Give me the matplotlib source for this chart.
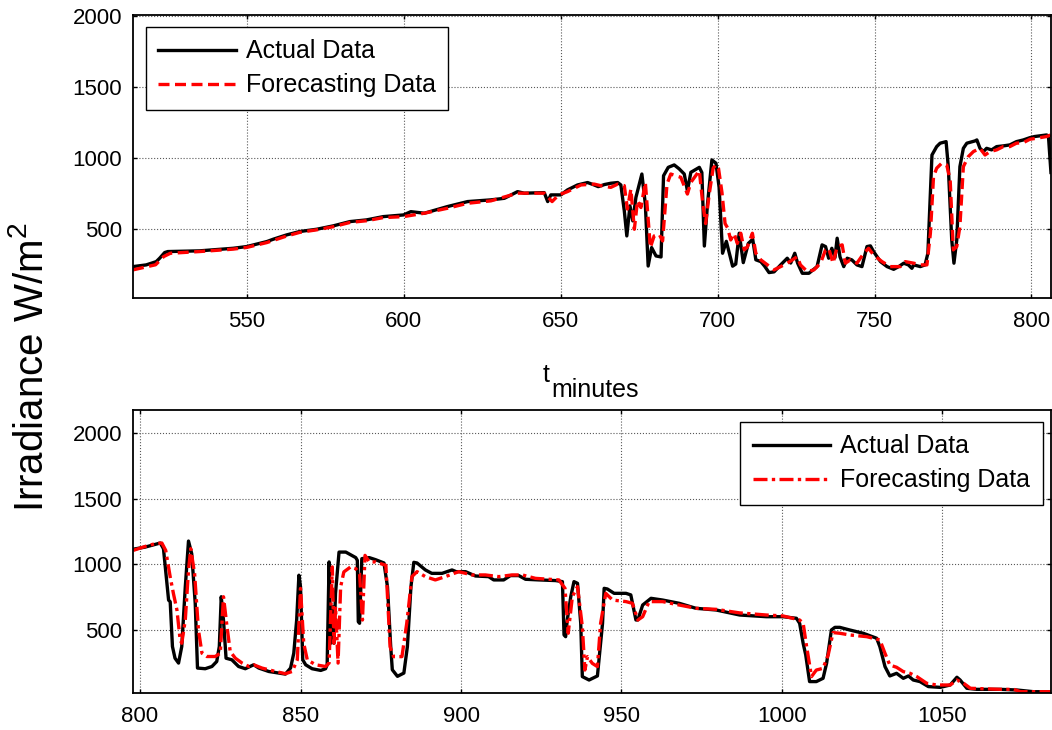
import matplotlib
matplotlib.use('Agg')
import matplotlib.pyplot as plt

plt.rcParams['font.family'] = 'Liberation Sans'
plt.rcParams['mathtext.fontset'] = 'custom'
plt.rcParams['mathtext.rm'] = 'Liberation Sans'
plt.rcParams['mathtext.it'] = 'Liberation Sans'

# upper panel: minutes 514-806
t_top_actual = [513.8, 518.0, 521.2, 522.3, 523.9, 524.9, 535, 545.7, 550, 556.4, 558.5, 562.7, 566.9,
                572.3, 577.6, 582.9, 588.2, 593.5, 600, 602.3, 606.6, 614, 620.4, 627.8, 632.1, 636.3,
                638.4, 644.8, 645.9, 646.9, 650.1, 652.2, 655.4, 658.6, 660.7, 662, 664, 666, 668.2,
                669.2, 670.3, 671.1, 672.1, 673.0, 674.0, 675.9, 677.0, 677.9, 679.0, 680.4, 682.0,
                682.8, 684.3, 686.2, 687.8, 689.4, 690.4, 691.5, 694.2, 695.0, 695.8, 696.8, 698.2,
                699.5, 700.5, 701.6, 702.8, 704.8, 705.8, 706.9, 708.2, 709.8, 711.2, 712.2, 713.8,
                715.0, 716.4, 718, 720.1, 722.2, 723.3, 724.6, 725.5, 727, 729.1, 731.7, 733.3, 734.4,
                735.4, 736.4, 737.4, 738.1, 739.0, 740.2, 741.3, 742.8, 744.4, 746, 747.6, 748.7,
                749.7, 751.9, 754, 756.1, 757.7, 759.3, 760.8, 761.9, 762.5, 764.6, 766.1, 767.0,
                768.3, 769.8, 770.9, 772.8, 773.5, 774.6, 775.3, 776.2, 777.2, 778.3, 779.4, 782.0,
                782.6, 783.6, 784.7, 785.7, 787.3, 788.9, 791, 793.1, 795.2, 797.4, 799.5, 801,
                804.8, 805.4, 806.2]
irr_top_actual = [237, 249, 272, 296, 336, 343, 348, 366, 378, 413, 430, 460, 484,
                  500, 524, 554, 566, 589, 601, 624, 613, 660, 695, 707, 718, 765,
                  754, 758, 695, 742, 742, 777, 812, 829, 812, 800, 815, 824, 829,
                  812, 630, 453, 665, 559, 724, 889, 677, 241, 371, 312, 305,
                  877, 936, 953, 925, 889, 771, 901, 936, 900, 382, 677, 988,
                  965, 795, 331, 415, 240, 255, 472, 265, 400, 430, 285, 272,
                  240, 195, 200, 249, 296, 262, 331, 262, 190, 190, 237, 390, 378,
                  296, 366, 300, 437, 306, 237, 296, 284, 249, 237, 378, 383,
                  343, 272, 237, 218, 237, 261, 249, 225, 249, 237, 249, 331,
                  1023, 1082, 1106, 1117, 941, 425, 261, 425, 941, 1070, 1106, 1122,
                  1129, 1070, 1047, 1070, 1059, 1082, 1087, 1094, 1117, 1129, 1145, 1153,
                  1164, 1157, 900]

t_top_forecast = [513.8, 518, 521, 523.6, 525.7, 535, 545.7, 550, 556.4, 562.7, 566.9, 572.3, 577.6,
                  582.9, 588.2, 593.5, 600, 606.6, 614, 620.4, 627.8, 636.3, 644.8, 647.3, 649.4,
                  652.2, 656.5, 660.7, 662.8, 666, 668.2, 670.3, 671.3, 672.4, 673.5, 674.5, 675.6,
                  677.0, 678.6, 679.8, 681.4, 682.5, 683.9, 685.1, 686.7, 688.3, 690.4, 691.5, 694.2,
                  695.2, 696.2, 697.3, 698.6, 699.5, 700.3, 701.4, 702.4, 703.2, 704.2, 705.3, 706.3,
                  707.4, 708.5, 709.5, 711.1, 712.2, 713.8, 715.9, 718, 720.1, 722.2, 723.8, 725.4,
                  726.4, 728.6, 730.7, 732.8, 734.4, 735.4, 736.8, 738.1, 739.7, 740.7, 742.3, 744.4,
                  746.6, 748.1, 749.7, 752.4, 755, 758.2, 759.8, 762.5, 764.6, 766.7, 767.8, 768.8,
                  769.8, 771.4, 773, 774.1, 775.1, 776.2, 777.2, 778.3, 779.9, 781.5, 783.6, 785.2,
                  786.8, 788.9, 791, 793.1, 795.2, 797.4, 799.5, 801.6, 804.8, 806.2]
irr_top_forecast = [214, 235, 250, 308, 331, 343, 360, 372, 406, 452, 478, 496, 518,
                    548, 560, 582, 589, 613, 648, 683, 700, 754, 754, 695, 742,
                    765, 812, 818, 807, 795, 818, 807, 642, 783, 500, 701, 653,
                    830, 371, 453, 465, 418, 818, 889, 877, 866, 748, 830, 913,
                    700, 540, 740, 930, 955, 930, 760, 540, 510, 425, 470, 400,
                    472, 355, 375, 472, 331, 284, 249, 214, 237, 261, 284, 307,
                    249, 202, 214, 261, 355, 366, 261, 378, 390, 261, 284, 261,
                    331, 366, 319, 272, 237, 237, 272, 261, 249, 249, 472, 871,
                    930, 965, 953, 847, 355, 378, 519, 941, 1012, 1047, 1070, 1023,
                    1047, 1059, 1082, 1082, 1106, 1110, 1134, 1141, 1153, 1164]

# lower panel: minutes 798-1084
t_bot_actual = [797.9, 801.6, 804.7, 806.3, 807.3, 808.3, 808.9, 809.4, 810.1, 810.9, 812.0, 813.0,
                814.1, 815.1, 816.1, 817.2, 817.9, 820.3, 822.4, 823.9, 824.7, 825.3, 826.0, 826.8,
                828.6, 830.7, 832.8, 835.4, 837.0, 840.1, 843.2, 845.3, 846.9, 847.9, 848.8, 849.5,
                850.0, 850.7, 851.6, 853.6, 856.3, 857.8, 858.3, 858.9, 859.4, 859.9, 860.4, 860.9,
                861.5, 862.0, 864.1, 867.2, 867.7, 868.0, 868.4, 869.1, 871.4, 873.4, 876.0, 877.1,
                878.1, 878.6, 880.2, 882.2, 883.3, 884.4, 885.3, 886.3, 888.9, 890.9, 894.1, 897.2,
                898.5, 901.4, 904.5, 908.6, 910.2, 913.3, 915.4, 918.0, 920.1, 924.3, 929.5, 931.6,
                932.1, 932.6, 933.1, 934.2, 935.2, 936.3, 937.3, 937.8, 939.9, 942.5, 944.1, 944.6,
                945.6, 947.7, 951.4, 952.9, 954.5, 955.1, 956.6, 959.2, 962.8, 968.0, 973.2, 979.5,
                986.8, 995.1, 1000.3, 1004.5, 1005.5, 1006.6, 1007.4, 1008.6, 1010.7, 1012.8, 1013.9,
                1015.4, 1016.5, 1018.0, 1021.1, 1025.3, 1029.5, 1030.5, 1032.1, 1033.6, 1035.7,
                1037.8, 1039.4, 1040.9, 1043.0, 1045.6, 1049.3, 1052.4, 1054.5, 1055.5, 1057.6,
                1060.7, 1068.0, 1073.2, 1078.4, 1084.3]
irr_bot_actual = [1115, 1131, 1152, 1162, 1119, 879, 727, 715, 374, 285, 248, 374,
                  828, 1177, 1081, 702, 210, 205, 222, 260, 374, 753, 576, 285,
                  273, 222, 205, 235, 210, 184, 172, 164, 210, 323, 576, 917,
                  828, 273, 235, 205, 192, 205, 235, 1018, 399, 677, 399, 778,
                  955, 1093, 1093, 1051, 1030, 563, 551, 1043, 1051, 1035, 1010, 828,
                  374, 197, 147, 172, 374, 828, 1015, 1010, 957, 931, 931, 957,
                  944, 944, 911, 906, 881, 881, 914, 914, 886, 881, 876, 868,
                  462, 449, 576, 754, 868, 855, 551, 145, 119, 150, 551, 817,
                  812, 779, 779, 767, 576, 576, 690, 741, 728, 703, 665, 652,
                  614, 601, 601, 589, 551, 398, 310, 107, 107, 132, 246,
                  500, 520, 520, 500, 475, 437, 373, 221, 150, 170,
                  132, 150, 119, 107, 69, 63, 81, 140, 119, 56,
                  48, 48, 43, 30, 30]

t_bot_forecast = [797.9, 801.6, 804.7, 806.8, 808.0, 809.4, 810.4, 811.5, 812.5, 813.0, 814.1, 815.1,
                  815.8, 817.0, 818.2, 819.3, 820.8, 823.4, 825.0, 826.0, 827.1, 828.1, 829.7, 831.8,
                  833.9, 835.4, 838.0, 842.2, 845.3, 847.4, 849.0, 850.0, 851.0, 852.1, 854.7, 857.8,
                  858.9, 859.9, 860.4, 860.9, 861.7, 862.5, 863.5, 865.6, 867.2, 868.4, 869.3, 870.1,
                  871.4, 873.4, 876.6, 877.9, 879.0, 881.6, 883.1, 884.7, 886.3, 888.9, 892.0, 895.1,
                  899.3, 903.4, 907.6, 911.8, 915.9, 919.1, 923.2, 930.5, 932.4, 933.4, 934.7, 936.3,
                  937.8, 938.6, 939.4, 940.9, 942.5, 943.5, 945.1, 947.2, 951.4, 953.4, 955.1, 956.6,
                  958.6, 962.8, 968.0, 973.2, 979.5, 986.8, 995.1, 1000.3, 1005.5, 1006.6, 1007.6,
                  1009.2, 1010.7, 1012.8, 1014.4, 1015.9, 1018.0, 1021.1, 1026.4, 1030.5, 1032.1,
                  1033.6, 1035.7, 1037.8, 1039.9, 1042.0, 1045.1, 1048.2, 1052.4, 1054.5, 1056.6,
                  1058.7, 1068.0, 1072.2, 1074.3, 1084.3]
irr_bot_forecast = [1106, 1136, 1157, 1162, 1106, 904, 778, 652, 424, 399, 576, 955,
                    1119, 929, 500, 323, 298, 298, 323, 753, 525, 336, 285, 248,
                    222, 235, 210, 184, 167, 184, 273, 816, 399, 273, 235, 222,
                    248, 980, 399, 677, 248, 828, 942, 980, 967, 929, 576, 1068,
                    1018, 1018, 992, 373, 297, 297, 551, 906, 944, 906, 881, 906,
                    944, 919, 919, 906, 919, 919, 893, 881, 817, 475, 754, 830,
                    525, 195, 297, 246, 221, 551, 779, 728, 716, 703, 576, 601,
                    716, 716, 690, 665, 657, 630, 614, 607, 576, 551, 386,
                    145, 195, 208, 310, 480, 475, 462, 449, 424, 322,
                    233, 216, 183, 170, 145, 94, 81, 81, 119, 94,
                    56, 48, 48, 30, 30]

top_xticks = [550, 600, 650, 700, 750, 800]
bot_xticks = [800, 850, 900, 950, 1000, 1050]
yticks = [500, 1000, 1500, 2000]

fig = plt.figure(figsize=(10.52, 7.30), dpi=100)
ax1 = fig.add_axes([0.1267, 0.5914, 0.8723, 0.3881])
ax2 = fig.add_axes([0.1267, 0.0503, 0.8723, 0.3881])

ax1.plot(t_top_actual, irr_top_actual, color='black', lw=2.4, label='Actual Data')
ax1.plot(t_top_forecast, irr_top_forecast, color='red', lw=2.4, linestyle=(0, (3.3, 1.65)),
         label='Forecasting Data')
ax2.plot(t_bot_actual, irr_bot_actual, color='black', lw=2.4, label='Actual Data')
ax2.plot(t_bot_forecast, irr_bot_forecast, color='red', lw=2.4,
         linestyle=(0, (4.2, 1.3, 1.0, 1.3)), label='Forecasting Data')

ax1.set_xlim(513.9, 806.2)
ax1.set_ylim(14, 2009)
ax1.set_xticks(top_xticks)
ax2.set_xlim(797.9, 1083.8)
ax2.set_ylim(18, 2175)
ax2.set_xticks(bot_xticks)

for ax in (ax1, ax2):
    ax.set_yticks(yticks)
    ax.grid(True, color='0.35', linestyle=':', linewidth=0.8)
    ax.tick_params(direction='in', length=3, width=1, top=True, right=True,
                   labelsize=16, colors='black')
    ax.tick_params(axis='x', pad=9)
    ax.tick_params(axis='y', pad=8)
    for s in ax.spines.values():
        s.set_linewidth(1.3)

leg_kw = dict(fontsize=18, fancybox=False, framealpha=1, edgecolor='black',
              handlelength=3.1, handletextpad=0.4, borderpad=0.5, labelspacing=0.4,
              borderaxespad=0)
l1 = ax1.legend(loc='upper left', bbox_to_anchor=(0.0138, 0.9576), **leg_kw)
l2 = ax2.legend(loc='upper right', bbox_to_anchor=(0.9913, 0.9576), **leg_kw)
for lg in (l1, l2):
    lg.get_frame().set_linewidth(1.0)

fig.text(0.030, 0.497, 'Irradiance W/m$^2$', rotation=90, ha='center', va='center', fontsize=29)
fig.text(543 / 1052, 1 - 382 / 730, 't', ha='left', va='baseline', fontsize=18)
fig.text(551 / 1052, 1 - 397 / 730, 'minutes', ha='left', va='baseline', fontsize=18)

fig.savefig('out.png', dpi=100)
